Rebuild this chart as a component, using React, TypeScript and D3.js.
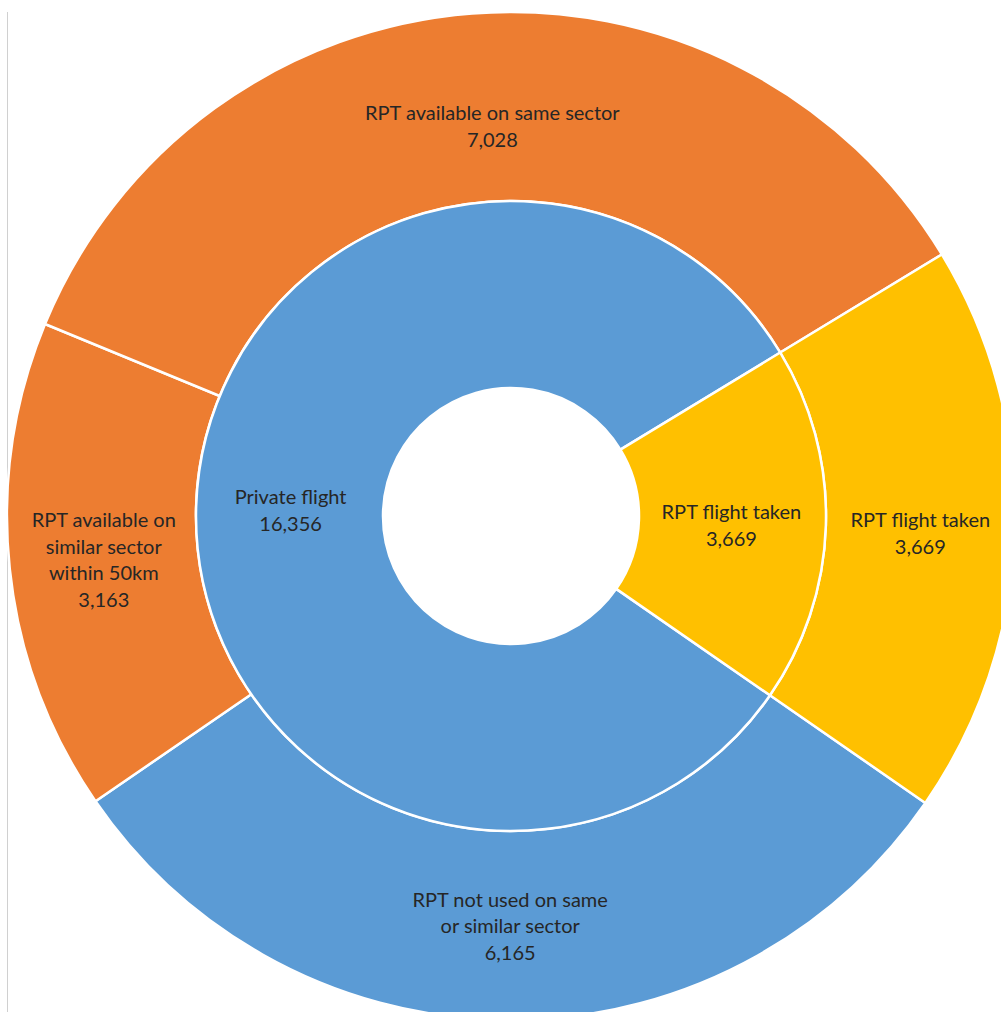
import React from "react";
import * as d3 from "d3";

const innerLabels = ["Private flight", "RPT flight taken"];
const innerValues = [16356, 3669];
const innerColors = ["#5B9BD5", "#FFC000"];

const outerLabels = [
  "RPT not used on same|or similar sector",
  "RPT available on|similar sector|within 50km",
  "RPT available on same sector",
  "RPT flight taken",
];
const outerValues = [6165, 3163, 7028, 3669];
const outerColors = ["#5B9BD5", "#ED7D31", "#ED7D31", "#FFC000"];

const W = 1001;
const H = 1012;
const CX = 511;
const CY = 516;
const R_HOLE = 128;
const R_MID = 315;
const R_OUT = 504;
const START = (124.7 * Math.PI) / 180;

// small label nudges (Excel-like placement)
const outerNudge: [number, number][] = [[0, 0], [0, 0], [13, 18], [0, 4]];
const innerNudge: [number, number][] = [[1, 0], [-1, 2]];

const fmt = d3.format(",");

type Ring = {
  labels: string[];
  values: number[];
  colors: string[];
  r0: number;
  r1: number;
  nudge: [number, number][];
};

function RingView({ ring }: { ring: Ring }) {
  const pie = d3
    .pie<number>()
    .sort(null)
    .value((d) => d)
    .startAngle(START)
    .endAngle(START + 2 * Math.PI);
  const arcs = pie(ring.values);
  const arc = d3
    .arc<d3.PieArcDatum<number>>()
    .innerRadius(ring.r0)
    .outerRadius(ring.r1);
  const lh = 26.5;
  return (
    <g>
      {arcs.map((a, i) => (
        <path
          key={"p" + i}
          d={arc(a) || ""}
          fill={ring.colors[i]}
          stroke="#FFFFFF"
          strokeWidth={2.5}
          strokeLinejoin="round"
        />
      ))}
      {arcs.map((a, i) => {
        const [x, y] = arc.centroid(a);
        const lines = ring.labels[i].split("|").concat([fmt(ring.values[i])]);
        const n = lines.length;
        const nx = ring.nudge[i][0];
        const ny = ring.nudge[i][1];
        return (
          <text
            key={"t" + i}
            x={x + nx}
            y={y + ny}
            textAnchor="middle"
            fontFamily="Lato, 'Open Sans', sans-serif"
            fontSize={20}
            fill="#262626"
          >
            {lines.map((l, k) => (
              <tspan
                key={k}
                x={x + nx}
                y={y + ny + (k - (n - 1) / 2) * lh}
                dominantBaseline="central"
              >
                {l}
              </tspan>
            ))}
          </text>
        );
      })}
    </g>
  );
}

export default function App() {
  const outer: Ring = {
    labels: outerLabels,
    values: outerValues,
    colors: outerColors,
    r0: R_MID,
    r1: R_OUT,
    nudge: outerNudge,
  };
  const inner: Ring = {
    labels: innerLabels,
    values: innerValues,
    colors: innerColors,
    r0: R_HOLE,
    r1: R_MID,
    nudge: innerNudge,
  };
  return (
    <svg
      width={W}
      height={H}
      style={{ position: "absolute", left: 0, top: 0, display: "block" }}
    >
      <rect x={0} y={0} width={W} height={H} fill="#FFFFFF" />
      <line x1={7.5} x2={7.5} y1={12} y2={H} stroke="#D0D0D0" strokeWidth={1} />
      <g transform={`translate(${CX},${CY})`}>
        <RingView ring={outer} />
        <RingView ring={inner} />
      </g>
    </svg>
  );
}
